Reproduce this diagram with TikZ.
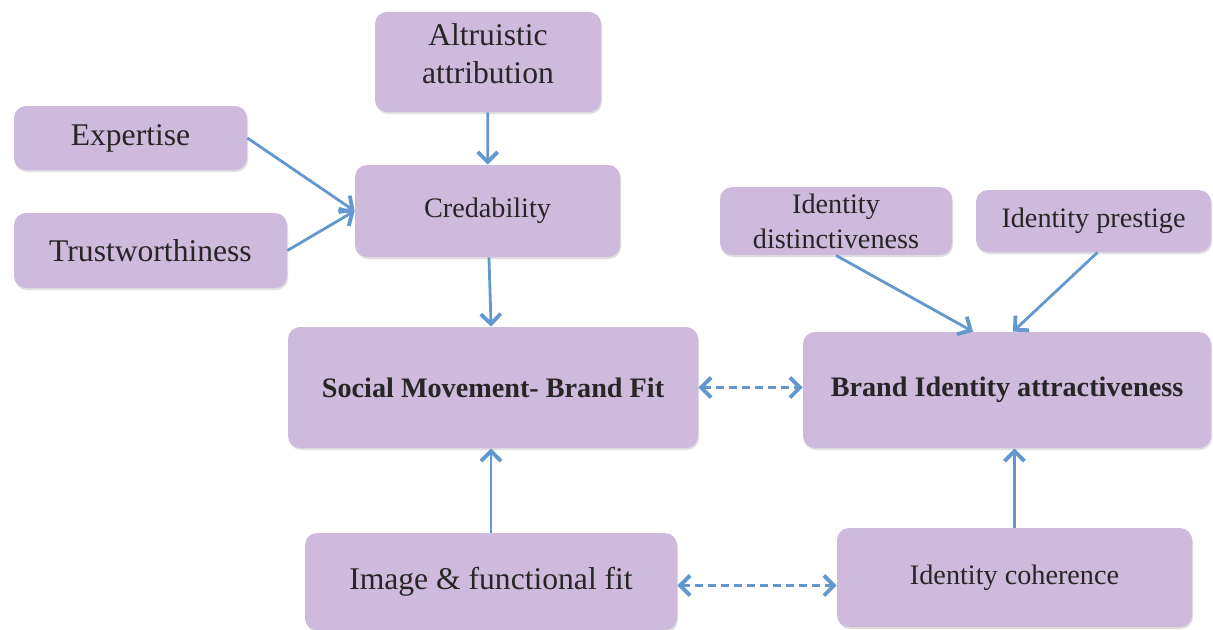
\documentclass[tikz,border=0pt]{standalone}
\usepackage{fontspec}
\setmainfont{Liberation Serif}
\usetikzlibrary{arrows.meta}
\usetikzlibrary{shadows}

\definecolor{boxfill}{RGB}{205,186,220}
\definecolor{linkblue}{RGB}{98,152,206}

\begin{document}
\begin{tikzpicture}[x=0.5pt,y=-0.5pt]
\tikzstyle{box} = [rectangle, fill=boxfill, rounded corners=6pt, inner sep=0pt,
align=center, text=black!85,
drop shadow={shadow xshift=0.5pt, shadow yshift=-1pt, opacity=0.25}]
\tikzstyle{large} = [box, font=\fontsize{15.8}{19}\selectfont]
\tikzstyle{small} = [box, font=\fontsize{14.1}{17.5}\selectfont]
\tikzstyle{core} = [small, font=\fontsize{14.1}{17.5}\selectfont\bfseries]
\tikzstyle{link} = [draw=linkblue, line width=1.4pt,
-{Straight Barb[length=5pt,width=10pt,line width=1.9pt]}]
\tikzstyle{mutual} = [link, {Straight Barb[length=5pt,width=10pt,line width=1.9pt]}-{Straight Barb[length=5pt,width=10pt,line width=1.9pt]},
line width=1.6pt, dash pattern=on 4pt off 2.5pt]
\useasboundingbox (0,0) rectangle (1213,629);
% credibility side
\node [large, minimum width=113pt, minimum height=50pt] (altruism) at (488,62) {Altruistic\\attribution\rule[-8pt]{0pt}{0pt}};
\node [large, minimum width=116.5pt, minimum height=32pt] (expertise) at (130.5,138) {Expertise};
\node [large, minimum width=136.5pt, minimum height=37.5pt] (trust) at (150.5,250.5) {Trustworthiness};
\node [small, minimum width=132.5pt, minimum height=46pt] (cred) at (487.5,211) {Credability};
% identity side
\node [small, minimum width=116pt, minimum height=34pt] (distinct) at (836,221) {Identity\\distinctiveness};
\node [small, minimum width=117.5pt, minimum height=31pt] (prestige) at (1093.5,221) {Identity prestige};
% central constructs
\node [core, minimum width=205pt, minimum height=60.5pt] (fit) at (493,387.5) {Social Movement- Brand Fit};
\node [core, minimum width=204pt, minimum height=58pt] (attract) at (1007,390) {Brand Identity attractiveness};
% bottom row
\node [large, minimum width=186pt, minimum height=48.5pt] (image) at (491,581.5) {Image \& functional fit};
\node [small, minimum width=177.5pt, minimum height=49.5pt] (coherence) at (1014.5,577.5) {Identity coherence};

\draw [link] (altruism) -- (cred);
\draw [link] (expertise.east) -- (cred.west);
\draw [link] (trust.east) -- (cred.west);
\draw [link] (cred) -- (fit);
\draw [link] (image.north) -- (image.north |- fit.south);
\draw [link] (distinct.south) -- ([xshift=-17pt]attract.north);
\draw [link] ([xshift=2pt]prestige.south) -- ([xshift=3pt]attract.north);
\draw [link] (coherence.north) -- (coherence.north |- attract.south);
\draw [mutual] (fit.east) -- (fit.east -| attract.west);
\draw [mutual] ([yshift=-2pt]image.east) -- ([yshift=-2pt]image.east -| coherence.west);
\end{tikzpicture}
\end{document}
